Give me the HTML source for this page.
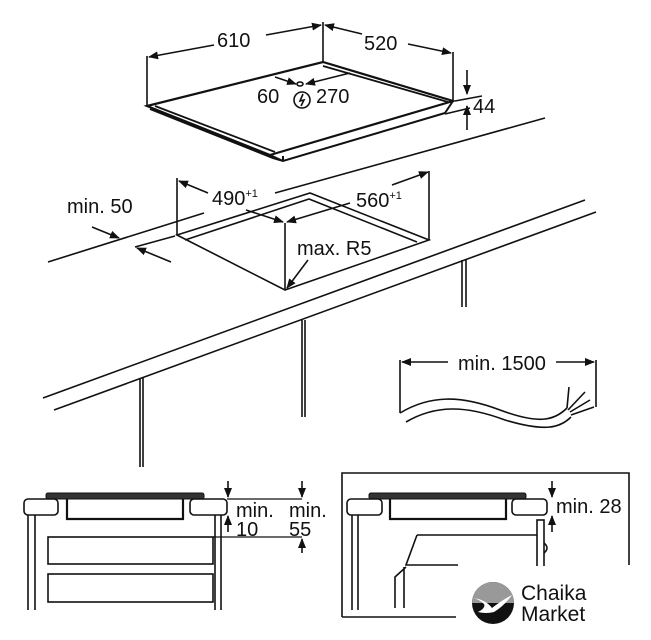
<!DOCTYPE html>
<html><head><meta charset="utf-8"><style>
html,body{margin:0;padding:0;background:#fff;}
svg{display:block;}
text{font-family:"Liberation Sans",sans-serif;fill:#111;}
</style></head><body>
<svg width="651" height="640" viewBox="0 0 651 640" xmlns="http://www.w3.org/2000/svg">
<defs>
<marker id="a" markerWidth="10" markerHeight="8" refX="9" refY="4" orient="auto" markerUnits="userSpaceOnUse">
<path d="M0,0 L10,4 L0,8 Z" fill="#111"/></marker>
</defs>
<g stroke="#111" fill="none" stroke-width="1.6">
<!-- hob top -->
<path d="M147,106 L323,62 L453,101 L270,155 Z" stroke-width="2.2"/>
<path d="M150,109 L273,158 L283,161 L445,113 M270,155 L283,161 M445,113 L453,101 M283,161 L283,156" stroke-width="2"/>
<path d="M155,106 L275,152 M323,66 L448,102" stroke-width="1.8"/>
<!-- extension lines -->
<path d="M147,106 V56 M323,62 V22 M453,101 V52"/>
<path d="M214,45 L149,57" marker-end="url(#a)"/>
<path d="M266,35 L321,25" marker-end="url(#a)"/>
<path d="M362,34 L325,25" marker-end="url(#a)"/>
<path d="M408,44 L451,53" marker-end="url(#a)"/>
<!-- 60 / 270 -->
<path d="M275,77 L296,84" marker-end="url(#a)"/>
<path d="M350,73 L306,84" marker-end="url(#a)"/>
<ellipse cx="300" cy="84" rx="3" ry="2"/>
<circle cx="302" cy="100" r="8"/>
<path d="M303,94 L300,101 L304,100 L301,106"/>
<!-- 44 -->
<path d="M467,70 V94" marker-end="url(#a)"/>
<path d="M467,130 V106" marker-end="url(#a)"/>
<path d="M455,101 L482,96 M445,114 L470,108"/>
<!-- counter back line -->
<path d="M48,262 L204,213 M275,193 L545,118"/>
<!-- cutout -->
<path d="M177,235 L310,193 L429,240 L285,290 Z"/>
<path d="M185,240 L309,199 L417,242"/>
<path d="M285,290 V223"/>
<path d="M177,235 V178 M429,240 V171"/>
<path d="M208,193 L179,181" marker-end="url(#a)"/>
<path d="M246,210 L283,222" marker-end="url(#a)"/>
<path d="M350,203 L287,222" marker-end="url(#a)"/>
<path d="M392,185 L428,172" marker-end="url(#a)"/>
<path d="M308,260 L287,288" marker-end="url(#a)"/>
<!-- min 50 -->
<path d="M92,227 L119,238" marker-end="url(#a)"/>
<path d="M171,262 L137,248" marker-end="url(#a)"/>
<path d="M135,247 L175,236"/>
<!-- counter front -->
<path d="M43,398 L585,200 M54,410 L596,212"/>
<!-- legs -->
<path d="M140,378 V467 M143,378 V467 M302,320 V417 M305,320 V417 M462,260 V307 M466,260 V307"/>
<!-- cable -->
<path d="M400,413 V360 M596,407 V360"/>
<path d="M448,362 L402,362" marker-end="url(#a)"/>
<path d="M556,362 L594,362" marker-end="url(#a)"/>
<path d="M400,413 C430,395 460,395 500,410 C540,425 555,420 567,408"/>
<path d="M406,422 C435,405 465,405 505,420 C545,432 560,428 571,417"/>
<path d="M567,408 L569,387 M568,410 L585,392 M570,412 L590,400 M571,415 L594,407"/>
<!-- bottom right box -->
<path d="M342,617 V473 H629 V565 M342,617 H456"/>
<!-- left section -->
<rect x="46" y="493" width="158" height="6" rx="2" fill="#333" stroke-width="1"/>
<rect x="24" y="499" width="34" height="16" rx="4"/>
<rect x="190" y="499" width="37" height="16" rx="4"/>
<path d="M67,499 V519 H183 V499" stroke-width="2.2"/>
<path d="M28,515 V610 M35,515 V610 M215,515 V610 M221,515 V610"/>
<rect x="48" y="537" width="165" height="27"/>
<rect x="48" y="574" width="165" height="28"/>
<path d="M228,481 V497" marker-end="url(#a)"/>
<path d="M302,481 V497" marker-end="url(#a)"/>
<path d="M227,499 H302" stroke-width="1.2"/>
<path d="M228,532 V516" marker-end="url(#a)"/>
<path d="M213,537 H302" stroke-width="1.2"/>
<path d="M302,553 V539" marker-end="url(#a)"/>
<!-- right section -->
<rect x="369" y="493" width="157" height="6" rx="2" fill="#333" stroke-width="1"/>
<rect x="347" y="499" width="35" height="16" rx="4"/>
<rect x="512" y="499" width="35" height="16" rx="4"/>
<path d="M390,499 V519 H506 V499" stroke-width="2.2"/>
<path d="M352,515 V610 M358,515 V610"/>
<path d="M552,481 V497" marker-end="url(#a)"/>
<path d="M552,532 V516" marker-end="url(#a)"/>
<rect x="537" y="520" width="7" height="47"/>
<path d="M544,543 Q550,548 544,553"/>
<path d="M417,535 H537 M417,535 L406,565 H458 M406,567 L395,577 V608 M404,567 V608"/>
</g>
<g font-size="20">
<text x="217" y="47">610</text>
<text x="364" y="50">520</text>
<text x="257" y="103">60</text>
<text x="316" y="103">270</text>
<text x="473" y="113">44</text>
<text x="67" y="213">min. 50</text>
<text x="212" y="205">490<tspan font-size="11" dy="-8">+1</tspan></text>
<text x="356" y="207">560<tspan font-size="11" dy="-8">+1</tspan></text>
<text x="297" y="255">max. R5</text>
<text x="458" y="370">min. 1500</text>
<text x="236" y="517">min.</text>
<text x="236" y="536">10</text>
<text x="289" y="517">min.</text>
<text x="289" y="536">55</text>
<text x="556" y="513">min. 28</text>
</g>
<!-- logo -->
<rect x="456" y="566" width="195" height="74" fill="#fff"/>
<circle cx="493" cy="603" r="21" fill="#111"/>
<path d="M472,603 A21,21 0 0 1 514,603 Z" fill="#999"/>
<path d="M474,598 Q486,600 492,608 Q502,600 512,595 Q504,606 494,612 Q486,614 478,612 Q486,608 484,604 Q480,600 474,598 Z" fill="#fff"/>
<text x="521" y="600" font-size="21">Chaika</text>
<text x="521" y="621" font-size="21">Market</text>
</svg>
</body></html>
